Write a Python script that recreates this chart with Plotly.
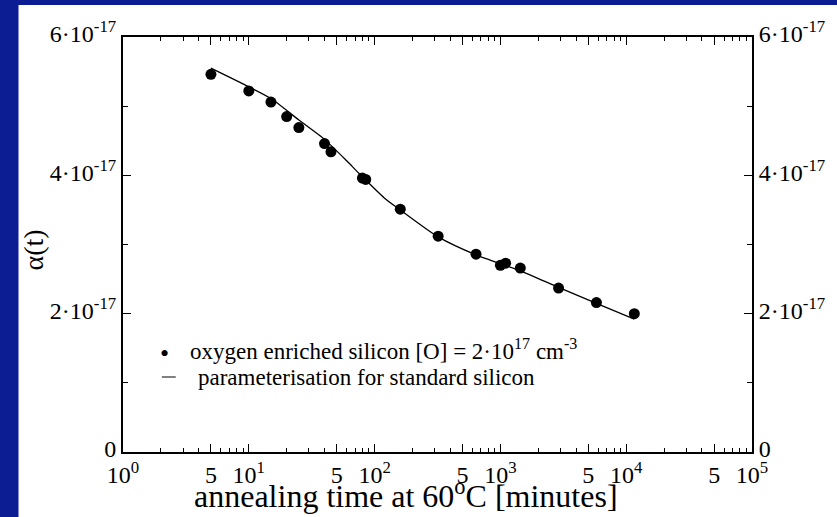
import numpy as np
import plotly.graph_objects as go

# ---- data -------------------------------------------------------------
ALPHA_UNIT = 1e-17  # A/cm

# measured damage constant, oxygen enriched silicon
t_meas = [5, 10, 15, 20, 25, 40, 45, 80, 85, 160, 320, 640, 1000, 1100,
          1440, 2900, 5800, 11600]
alpha_meas = [5.46, 5.22, 5.06, 4.85, 4.69, 4.46, 4.34, 3.96, 3.94, 3.51,
              3.12, 2.86, 2.70, 2.73, 2.66, 2.37, 2.16, 2.00]

# parameterisation curve for standard silicon
t_param = [5, 10, 15, 25, 40, 60, 75, 120, 160, 320, 640, 1440, 2900, 5800, 11600]
alpha_param = [5.55, 5.28, 5.11, 4.80, 4.52, 4.21, 4.03, 3.67, 3.50, 3.11,
               2.85, 2.62, 2.38, 2.15, 1.92]

# axis tick labels
x_major = [1, 5, 10, 50, 100, 500, 1000, 5000, 10000, 50000, 100000]
x_major_text = ["10<sup>0</sup>", "5", "10<sup>1</sup>", "5", "10<sup>2</sup>", "5",
                "10<sup>3</sup>", "5", "10<sup>4</sup>", "5", "10<sup>5</sup>"]
x_minor = [m * 10 ** d for d in range(5) for m in (2, 3, 4, 6, 7, 8, 9)]
y_major = [0, 2, 4, 6]
y_major_text = ["0", "2·10<sup>-17</sup>", "4·10<sup>-17</sup>", "6·10<sup>-17</sup>"]
y_minor = [1, 3, 5]

legend_dots = "oxygen enriched silicon [O] = 2·10<sup>17</sup> cm<sup>-3</sup>"
legend_line = "parameterisation for standard silicon"
x_title = "annealing time at 60<sup>o</sup>C [minutes]"
y_title = "α(t)"

# ---- layout geometry (pixels) -----------------------------------------
W, H = 837, 517
L, R, T, B = 123, 755, 37, 452
FONT = "Liberation Serif"
BLUE = "#0c1c92"


def px(x):
    return (x - L) / (R - L)


def py(y):
    return (B - y) / (B - T)


y_scale = lambda v: [a * ALPHA_UNIT for a in v]

fig = go.Figure()

fig.add_trace(go.Scatter(
    x=t_param, y=y_scale(alpha_param), mode="lines",
    line=dict(color="black", width=1.3, shape="spline", smoothing=0.6),
    hoverinfo="skip", showlegend=False))

fig.add_trace(go.Scatter(
    x=t_meas, y=y_scale(alpha_meas), mode="markers",
    marker=dict(color="black", size=11, line=dict(width=0)),
    showlegend=False))

tick_font = dict(family=FONT, size=24, color="black")

x_common = dict(
    type="log", range=[0, 5], showgrid=False, zeroline=False,
    showline=True, linecolor="black", linewidth=2,
    tickmode="array", tickvals=x_major, ticks="inside", ticklen=8,
    tickwidth=1, tickcolor="black",
    minor=dict(tickmode="array", tickvals=x_minor, ticks="inside",
               ticklen=4, tickwidth=1, tickcolor="black", showgrid=False),
)
y_common = dict(
    range=[0, 6 * ALPHA_UNIT], showgrid=False, zeroline=False,
    showline=True, linecolor="black", linewidth=2,
    tickmode="array", tickvals=y_scale(y_major), ticktext=y_major_text,
    ticks="inside", ticklen=8, tickwidth=1, tickcolor="black",
    minor=dict(tickmode="array", tickvals=y_scale(y_minor), ticks="inside",
               ticklen=5, tickwidth=1, tickcolor="black", showgrid=False),
    tickfont=tick_font, ticklabelshift=-3,
)

fig.update_layout(
    width=W, height=H,
    margin=dict(l=L, r=W - R, t=T, b=H - B, pad=0),
    paper_bgcolor=BLUE, plot_bgcolor="white",
    font=dict(family=FONT, color="black"),
    xaxis=dict(**x_common, ticktext=x_major_text, tickfont=tick_font),
    xaxis2=dict(**x_common, overlaying="x", side="top", showticklabels=False),
    yaxis=dict(**y_common, side="left"),
    yaxis2=dict(**y_common, overlaying="y", side="right"),
)

# dummy trace so that the mirrored axes are drawn
fig.add_trace(go.Scatter(x=[None], y=[None], xaxis="x2", yaxis="y2",
                         showlegend=False, hoverinfo="skip"))

# white page with blue frame strip on left and top
fig.add_shape(type="rect", xref="paper", yref="paper",
              x0=px(18), x1=px(W + 20), y0=py(H + 20), y1=py(5),
              fillcolor="white", line=dict(width=0), layer="below")

# legend
fig.add_annotation(x=px(165), y=py(353), xref="paper", yref="paper",
                   text="•", showarrow=False,
                   font=dict(family=FONT, size=26, color="black"),
                   xanchor="center", yanchor="middle")
fig.add_annotation(x=px(188), y=py(349), xref="paper", yref="paper",
                   text=legend_dots, showarrow=False,
                   font=dict(family=FONT, size=23, color="black"),
                   xanchor="left", yanchor="middle")
fig.add_shape(type="line", xref="paper", yref="paper",
              x0=px(162), x1=px(176), y0=py(377), y1=py(377),
              line=dict(color="black", width=1))
fig.add_annotation(x=px(196), y=py(377), xref="paper", yref="paper",
                   text=legend_line, showarrow=False,
                   font=dict(family=FONT, size=23, color="black"),
                   xanchor="left", yanchor="middle")

# axis titles
fig.add_annotation(x=px(407), y=py(494), xref="paper", yref="paper",
                   text=x_title, showarrow=False,
                   font=dict(family=FONT, size=32, color="black"),
                   xanchor="center", yanchor="middle")
fig.add_annotation(x=px(33), y=py(250), xref="paper", yref="paper",
                   text=y_title, showarrow=False, textangle=-90,
                   font=dict(family=FONT, size=28, color="black"),
                   xanchor="center", yanchor="middle")

fig.write_html("out.html")
